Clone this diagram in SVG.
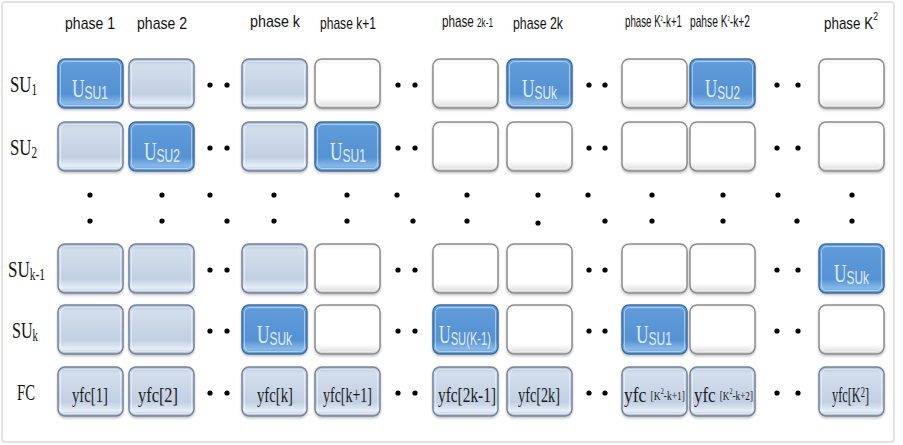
<svg xmlns="http://www.w3.org/2000/svg" width="903" height="445" viewBox="0 0 903 445">
<defs>
  <linearGradient id="gBlue" x1="0" y1="0" x2="0" y2="1">
    <stop offset="0" stop-color="#72a9e2"/>
    <stop offset="0.1" stop-color="#5f9bd9"/>
    <stop offset="0.72" stop-color="#5592d3"/>
    <stop offset="0.9" stop-color="#86b9e8"/>
    <stop offset="1" stop-color="#6096cc"/>
  </linearGradient>
  <linearGradient id="gGray" x1="0" y1="0" x2="0" y2="1">
    <stop offset="0" stop-color="#b2c2d8"/>
    <stop offset="0.12" stop-color="#d3deec"/>
    <stop offset="0.72" stop-color="#c2d0e3"/>
    <stop offset="0.9" stop-color="#e6eef7"/>
    <stop offset="1" stop-color="#a6b6cc"/>
  </linearGradient>
  <linearGradient id="gWhite" x1="0" y1="0" x2="0" y2="1">
    <stop offset="0" stop-color="#efefef"/>
    <stop offset="0.12" stop-color="#ffffff"/>
    <stop offset="0.8" stop-color="#ffffff"/>
    <stop offset="0.92" stop-color="#e8e8e8"/>
    <stop offset="1" stop-color="#cccccc"/>
  </linearGradient>
  <filter id="sh" x="-10%" y="-10%" width="120%" height="130%">
    <feDropShadow dx="0" dy="1.5" stdDeviation="1.2" flood-color="#000" flood-opacity="0.25"/>
  </filter>
</defs>
<style>
  .b { fill: url(#gBlue); stroke: #3d6da2; stroke-width: 1.5; filter: url(#sh); }
  .g { fill: url(#gGray); stroke: #74849b; stroke-width: 1.5; filter: url(#sh); }
  .w { fill: url(#gWhite); stroke: #8c8c8c; stroke-width: 1.5; filter: url(#sh); }
  .hl { fill: none; stroke: #ffffff; stroke-opacity: 0.45; stroke-width: 1; }
  .hd { font-family: "Liberation Sans", Arial, sans-serif; font-size: 17px; fill: #111; }
  .rl { font-family: "Liberation Serif", "Times New Roman", serif; font-size: 24px; fill: #111; }
  .rs { font-size: 16px; }
  .u { font-family: "Liberation Serif", "Times New Roman", serif; font-size: 26px; fill: #e2ecf7; }
  .us { font-family: "Liberation Sans", Arial, sans-serif; font-size: 18px; }
  .fc { font-family: "Liberation Serif", "Times New Roman", serif; font-size: 22px; fill: #1a1a1a; }
  .dot { fill: #000; }
</style>
<rect x="2" y="2" width="892" height="440" rx="3" fill="#ffffff" stroke="#e2e2e2" stroke-width="2"/>

<g id="headers">
  <text class="hd" x="65" y="29" textLength="50" lengthAdjust="spacingAndGlyphs">phase 1</text>
  <text class="hd" x="137" y="29" textLength="50" lengthAdjust="spacingAndGlyphs">phase 2</text>
  <text class="hd" x="250" y="27" textLength="50" lengthAdjust="spacingAndGlyphs">phase k</text>
  <text class="hd" x="320" y="29" textLength="56" lengthAdjust="spacingAndGlyphs" font-size="16">phase k+1</text>
  <text class="hd" x="442" y="27" textLength="51" lengthAdjust="spacingAndGlyphs" font-size="14">phase <tspan font-size="12">2k-1</tspan></text>
  <text class="hd" x="513" y="29" textLength="50" lengthAdjust="spacingAndGlyphs">phase 2k</text>
  <text class="hd" x="625" y="27" textLength="57" lengthAdjust="spacingAndGlyphs" font-size="13">phase K<tspan font-size="7" dy="-6">2</tspan><tspan dy="6">-k+1</tspan></text>
  <text class="hd" x="690" y="27" textLength="60" lengthAdjust="spacingAndGlyphs" font-size="13">pahse K<tspan font-size="7" dy="-6">2</tspan><tspan dy="6">-k+2</tspan></text>
  <text class="hd" x="824" y="29" textLength="54" lengthAdjust="spacingAndGlyphs" font-size="18">phase K<tspan font-size="11" dy="-9">2</tspan></text>
</g>

<g id="row-labels">
  <text class="rl" x="10" y="92" textLength="27" lengthAdjust="spacingAndGlyphs">SU<tspan class="rs" dy="3">1</tspan></text>
  <text class="rl" x="10" y="155" textLength="27" lengthAdjust="spacingAndGlyphs">SU<tspan class="rs" dy="3">2</tspan></text>
  <text class="rl" x="8" y="277" textLength="37" lengthAdjust="spacingAndGlyphs">SU<tspan class="rs" dy="3">k-1</tspan></text>
  <text class="rl" x="12" y="338" textLength="26" lengthAdjust="spacingAndGlyphs">SU<tspan class="rs" dy="3">k</tspan></text>
  <text class="rl" x="17" y="400" textLength="18" lengthAdjust="spacingAndGlyphs">FC</text>
</g>

<!-- Row SU1 -->
<g id="su1-p1"><rect class="b" x="58" y="59" width="65" height="49" rx="7"/><rect class="hl" x="60.5" y="61.5" width="60" height="44" rx="5"/><text class="u" x="72" y="97" textLength="36" lengthAdjust="spacingAndGlyphs">U<tspan class="us" dy="2">SU1</tspan></text></g>
<g id="su1-p2"><rect class="g" x="129" y="59" width="65" height="49" rx="7"/><rect class="hl" x="131.5" y="61.5" width="60" height="44" rx="5"/></g>
<g id="su1-pk"><rect class="g" x="242" y="59" width="65" height="49" rx="7"/><rect class="hl" x="244.5" y="61.5" width="60" height="44" rx="5"/></g>
<g id="su1-pk1"><rect class="w" x="315" y="59" width="65" height="49" rx="7"/><rect class="hl" x="317.5" y="61.5" width="60" height="44" rx="5"/></g>
<g id="su1-p2k1"><rect class="w" x="433" y="59" width="65" height="49" rx="7"/><rect class="hl" x="435.5" y="61.5" width="60" height="44" rx="5"/></g>
<g id="su1-p2k"><rect class="b" x="507" y="59" width="65" height="49" rx="7"/><rect class="hl" x="509.5" y="61.5" width="60" height="44" rx="5"/><text class="u" x="522" y="97" textLength="35" lengthAdjust="spacingAndGlyphs">U<tspan class="us" dy="2">SUk</tspan></text></g>
<g id="su1-pK2k1"><rect class="w" x="622" y="59" width="65" height="49" rx="7"/><rect class="hl" x="624.5" y="61.5" width="60" height="44" rx="5"/></g>
<g id="su1-pK2k2"><rect class="b" x="690" y="59" width="65" height="49" rx="7"/><rect class="hl" x="692.5" y="61.5" width="60" height="44" rx="5"/><text class="u" x="705" y="97" textLength="35" lengthAdjust="spacingAndGlyphs">U<tspan class="us" dy="2">SU2</tspan></text></g>
<g id="su1-pK2"><rect class="w" x="819" y="59" width="65" height="49" rx="7"/><rect class="hl" x="821.5" y="61.5" width="60" height="44" rx="5"/></g>

<!-- Row SU2 -->
<g id="su2-p1"><rect class="g" x="58" y="122" width="65" height="49" rx="7"/><rect class="hl" x="60.5" y="124.5" width="60" height="44" rx="5"/></g>
<g id="su2-p2"><rect class="b" x="129" y="122" width="65" height="49" rx="7"/><rect class="hl" x="131.5" y="124.5" width="60" height="44" rx="5"/><text class="u" x="144" y="160" textLength="36" lengthAdjust="spacingAndGlyphs">U<tspan class="us" dy="2">SU2</tspan></text></g>
<g id="su2-pk"><rect class="g" x="242" y="122" width="65" height="49" rx="7"/><rect class="hl" x="244.5" y="124.5" width="60" height="44" rx="5"/></g>
<g id="su2-pk1"><rect class="b" x="315" y="122" width="65" height="49" rx="7"/><rect class="hl" x="317.5" y="124.5" width="60" height="44" rx="5"/><text class="u" x="330" y="160" textLength="36" lengthAdjust="spacingAndGlyphs">U<tspan class="us" dy="2">SU1</tspan></text></g>
<g id="su2-p2k1"><rect class="w" x="433" y="122" width="65" height="49" rx="7"/><rect class="hl" x="435.5" y="124.5" width="60" height="44" rx="5"/></g>
<g id="su2-p2k"><rect class="w" x="507" y="122" width="65" height="49" rx="7"/><rect class="hl" x="509.5" y="124.5" width="60" height="44" rx="5"/></g>
<g id="su2-pK2k1"><rect class="w" x="622" y="122" width="65" height="49" rx="7"/><rect class="hl" x="624.5" y="124.5" width="60" height="44" rx="5"/></g>
<g id="su2-pK2k2"><rect class="w" x="690" y="122" width="65" height="49" rx="7"/><rect class="hl" x="692.5" y="124.5" width="60" height="44" rx="5"/></g>
<g id="su2-pK2"><rect class="w" x="819" y="122" width="65" height="49" rx="7"/><rect class="hl" x="821.5" y="124.5" width="60" height="44" rx="5"/></g>

<!-- Row SUk-1 -->
<g id="suk1-p1"><rect class="g" x="58" y="244" width="65" height="49" rx="7"/><rect class="hl" x="60.5" y="246.5" width="60" height="44" rx="5"/></g>
<g id="suk1-p2"><rect class="g" x="129" y="244" width="65" height="49" rx="7"/><rect class="hl" x="131.5" y="246.5" width="60" height="44" rx="5"/></g>
<g id="suk1-pk"><rect class="g" x="242" y="244" width="65" height="49" rx="7"/><rect class="hl" x="244.5" y="246.5" width="60" height="44" rx="5"/></g>
<g id="suk1-pk1"><rect class="w" x="315" y="244" width="65" height="49" rx="7"/><rect class="hl" x="317.5" y="246.5" width="60" height="44" rx="5"/></g>
<g id="suk1-p2k1"><rect class="w" x="433" y="244" width="65" height="49" rx="7"/><rect class="hl" x="435.5" y="246.5" width="60" height="44" rx="5"/></g>
<g id="suk1-p2k"><rect class="w" x="507" y="244" width="65" height="49" rx="7"/><rect class="hl" x="509.5" y="246.5" width="60" height="44" rx="5"/></g>
<g id="suk1-pK2k1"><rect class="w" x="622" y="244" width="65" height="49" rx="7"/><rect class="hl" x="624.5" y="246.5" width="60" height="44" rx="5"/></g>
<g id="suk1-pK2k2"><rect class="w" x="690" y="244" width="65" height="49" rx="7"/><rect class="hl" x="692.5" y="246.5" width="60" height="44" rx="5"/></g>
<g id="suk1-pK2"><rect class="b" x="819" y="244" width="65" height="49" rx="7"/><rect class="hl" x="821.5" y="246.5" width="60" height="44" rx="5"/><text class="u" x="834" y="282" textLength="35" lengthAdjust="spacingAndGlyphs">U<tspan class="us" dy="2">SUk</tspan></text></g>

<!-- Row SUk -->
<g id="suk-p1"><rect class="g" x="58" y="305" width="65" height="49" rx="7"/><rect class="hl" x="60.5" y="307.5" width="60" height="44" rx="5"/></g>
<g id="suk-p2"><rect class="g" x="129" y="305" width="65" height="49" rx="7"/><rect class="hl" x="131.5" y="307.5" width="60" height="44" rx="5"/></g>
<g id="suk-pk"><rect class="b" x="242" y="305" width="65" height="49" rx="7"/><rect class="hl" x="244.5" y="307.5" width="60" height="44" rx="5"/><text class="u" x="257" y="343" textLength="35" lengthAdjust="spacingAndGlyphs">U<tspan class="us" dy="2">SUk</tspan></text></g>
<g id="suk-pk1"><rect class="w" x="315" y="305" width="65" height="49" rx="7"/><rect class="hl" x="317.5" y="307.5" width="60" height="44" rx="5"/></g>
<g id="suk-p2k1"><rect class="b" x="433" y="305" width="65" height="49" rx="7"/><rect class="hl" x="435.5" y="307.5" width="60" height="44" rx="5"/><text class="u" x="439" y="343" textLength="52" lengthAdjust="spacingAndGlyphs">U<tspan class="us" dy="2" font-size="16">SU(K-1)</tspan></text></g>
<g id="suk-p2k"><rect class="w" x="507" y="305" width="65" height="49" rx="7"/><rect class="hl" x="509.5" y="307.5" width="60" height="44" rx="5"/></g>
<g id="suk-pK2k1"><rect class="b" x="622" y="305" width="65" height="49" rx="7"/><rect class="hl" x="624.5" y="307.5" width="60" height="44" rx="5"/><text class="u" x="636" y="343" textLength="36" lengthAdjust="spacingAndGlyphs">U<tspan class="us" dy="2">SU1</tspan></text></g>
<g id="suk-pK2k2"><rect class="w" x="690" y="305" width="65" height="49" rx="7"/><rect class="hl" x="692.5" y="307.5" width="60" height="44" rx="5"/></g>
<g id="suk-pK2"><rect class="w" x="819" y="305" width="65" height="49" rx="7"/><rect class="hl" x="821.5" y="307.5" width="60" height="44" rx="5"/></g>

<!-- Row FC -->
<g id="fc-p1"><rect class="g" x="58" y="367" width="65" height="49" rx="7"/><rect class="hl" x="60.5" y="369.5" width="60" height="44" rx="5"/><text class="fc" x="72" y="402" textLength="36" lengthAdjust="spacingAndGlyphs">yfc[1]</text></g>
<g id="fc-p2"><rect class="g" x="129" y="367" width="65" height="49" rx="7"/><rect class="hl" x="131.5" y="369.5" width="60" height="44" rx="5"/><text class="fc" x="138" y="402" textLength="40" lengthAdjust="spacingAndGlyphs">yfc[2]</text></g>
<g id="fc-pk"><rect class="g" x="242" y="367" width="65" height="49" rx="7"/><rect class="hl" x="244.5" y="369.5" width="60" height="44" rx="5"/><text class="fc" x="257" y="402" textLength="36" lengthAdjust="spacingAndGlyphs">yfc[k]</text></g>
<g id="fc-pk1"><rect class="g" x="315" y="367" width="65" height="49" rx="7"/><rect class="hl" x="317.5" y="369.5" width="60" height="44" rx="5"/><text class="fc" x="323" y="402" textLength="49" lengthAdjust="spacingAndGlyphs">yfc[k+1]</text></g>
<g id="fc-p2k1"><rect class="g" x="433" y="367" width="65" height="49" rx="7"/><rect class="hl" x="435.5" y="369.5" width="60" height="44" rx="5"/><text class="fc" x="438" y="402" textLength="58" lengthAdjust="spacingAndGlyphs">yfc[2k-1]</text></g>
<g id="fc-p2k"><rect class="g" x="507" y="367" width="65" height="49" rx="7"/><rect class="hl" x="509.5" y="369.5" width="60" height="44" rx="5"/><text class="fc" x="518" y="402" textLength="42" lengthAdjust="spacingAndGlyphs">yfc[2k]</text></g>
<g id="fc-pK2k1"><rect class="g" x="622" y="367" width="65" height="49" rx="7"/><rect class="hl" x="624.5" y="369.5" width="60" height="44" rx="5"/><text class="fc" x="624" y="402" textLength="61" lengthAdjust="spacingAndGlyphs">yfc <tspan font-size="12" dy="-2">[K</tspan><tspan font-size="8" dy="-6">2</tspan><tspan font-size="12" dy="6">-k+1]</tspan></text></g>
<g id="fc-pK2k2"><rect class="g" x="690" y="367" width="65" height="49" rx="7"/><rect class="hl" x="692.5" y="369.5" width="60" height="44" rx="5"/><text class="fc" x="694" y="402" textLength="59" lengthAdjust="spacingAndGlyphs">yfc <tspan font-size="12" dy="-2">[K</tspan><tspan font-size="8" dy="-6">2</tspan><tspan font-size="12" dy="6">-k+2]</tspan></text></g>
<g id="fc-pK2"><rect class="g" x="819" y="367" width="65" height="49" rx="7"/><rect class="hl" x="821.5" y="369.5" width="60" height="44" rx="5"/><text class="fc" x="832" y="402" textLength="37" lengthAdjust="spacingAndGlyphs">yfc[K<tspan font-size="15" dy="-5">2</tspan><tspan dy="5">]</tspan></text></g>

<g id="connectors">
  <g class="dot">
    <circle cx="210" cy="85" r="2.6"/><circle cx="227" cy="85" r="2.6"/>
    <circle cx="398" cy="85" r="2.6"/><circle cx="415" cy="85" r="2.6"/>
    <circle cx="589" cy="85" r="2.6"/><circle cx="605" cy="85" r="2.6"/>
    <circle cx="777" cy="85" r="2.6"/><circle cx="798" cy="85" r="2.6"/>

    <circle cx="210" cy="148" r="2.6"/><circle cx="227" cy="148" r="2.6"/>
    <circle cx="398" cy="148" r="2.6"/><circle cx="415" cy="148" r="2.6"/>
    <circle cx="589" cy="148" r="2.6"/><circle cx="605" cy="148" r="2.6"/>
    <circle cx="777" cy="148" r="2.6"/><circle cx="798" cy="148" r="2.6"/>

    <circle cx="210" cy="270" r="2.6"/><circle cx="227" cy="270" r="2.6"/>
    <circle cx="398" cy="270" r="2.6"/><circle cx="415" cy="270" r="2.6"/>
    <circle cx="589" cy="270" r="2.6"/><circle cx="605" cy="270" r="2.6"/>
    <circle cx="777" cy="270" r="2.6"/><circle cx="798" cy="270" r="2.6"/>

    <circle cx="210" cy="331" r="2.6"/><circle cx="227" cy="331" r="2.6"/>
    <circle cx="398" cy="331" r="2.6"/><circle cx="415" cy="331" r="2.6"/>
    <circle cx="589" cy="331" r="2.6"/><circle cx="605" cy="331" r="2.6"/>
    <circle cx="777" cy="331" r="2.6"/><circle cx="798" cy="331" r="2.6"/>

    <circle cx="210" cy="393" r="2.6"/><circle cx="227" cy="393" r="2.6"/>
    <circle cx="398" cy="393" r="2.6"/><circle cx="415" cy="393" r="2.6"/>
    <circle cx="589" cy="393" r="2.6"/><circle cx="605" cy="393" r="2.6"/>
    <circle cx="777" cy="393" r="2.6"/><circle cx="798" cy="393" r="2.6"/>

    <circle cx="90" cy="195" r="2.6"/><circle cx="90" cy="221" r="2.6"/>
    <circle cx="162" cy="195" r="2.6"/><circle cx="162" cy="221" r="2.6"/>
    <circle cx="210" cy="195" r="2.6"/><circle cx="227" cy="221" r="2.6"/>
    <circle cx="274" cy="195" r="2.6"/><circle cx="274" cy="221" r="2.6"/>
    <circle cx="347" cy="195" r="2.6"/><circle cx="347" cy="221" r="2.6"/>
    <circle cx="397" cy="195" r="2.6"/><circle cx="413" cy="221" r="2.6"/>
    <circle cx="467" cy="195" r="2.6"/><circle cx="467" cy="221" r="2.6"/>
    <circle cx="538" cy="195" r="2.6"/><circle cx="538" cy="223" r="2.6"/>
    <circle cx="588" cy="195" r="2.6"/><circle cx="605" cy="221" r="2.6"/>
    <circle cx="652" cy="195" r="2.6"/><circle cx="652" cy="221" r="2.6"/>
    <circle cx="723" cy="195" r="2.6"/><circle cx="723" cy="221" r="2.6"/>
    <circle cx="778" cy="195" r="2.6"/><circle cx="797" cy="221" r="2.6"/>
    <circle cx="852" cy="195" r="2.6"/><circle cx="852" cy="221" r="2.6"/>
  </g>
</g>
</svg>
